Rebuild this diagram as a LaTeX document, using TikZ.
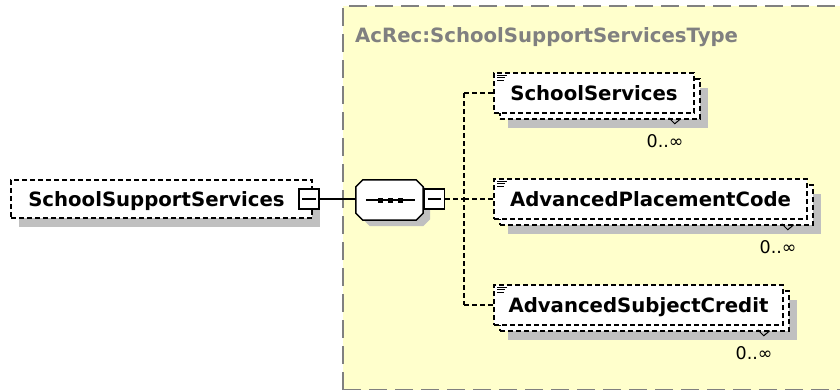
\documentclass[tikz,border=0pt]{standalone}
\usepackage{fontspec}
\setmainfont{DejaVu Sans}
\usetikzlibrary{shadows,calc}
\definecolor{bgyellow}{HTML}{FFFFCC}
\definecolor{shadowgray}{HTML}{C0C0C0}
\definecolor{titlegray}{HTML}{808080}
\newcommand\elfont{\fontsize{19.7pt}{22pt}\selectfont\bfseries}
\newcommand\multfont{\fontsize{17.5pt}{19pt}\selectfont}
\newcommand\octpath[2]{($(#1.north west)+(#2)+(7,0)$) -- ($(#1.north east)+(#2)+(-7,0)$) -- ($(#1.north east)+(#2)+(0,7)$) -- ($(#1.south east)+(#2)+(0,-7)$) -- ($(#1.south east)+(#2)+(-7,0)$) -- ($(#1.south west)+(#2)+(7,0)$) -- ($(#1.south west)+(#2)+(0,-7)$) -- ($(#1.north west)+(#2)+(0,7)$) -- cycle}
\begin{document}
\begin{tikzpicture}[x=1pt,y=-1pt,
  eldash/.style={dash pattern=on 5pt off 3pt, line width=1.5pt},
  dshadow/.style={drop shadow={shadow xshift=8pt, shadow yshift=-9pt, fill=shadowgray, opacity=1}},
  elbox/.style={draw=black, eldash, fill=white, rectangle, inner sep=0pt,
     minimum height=40pt, font=\elfont, text height=14pt, text depth=0pt},
  backbox/.style={elbox, dshadow},
  mainbox/.style={elbox, dshadow, minimum height=38pt},
  minusbox/.style={draw=black, line width=1.4pt, fill=white, rectangle, inner sep=0pt,
     minimum width=20pt, minimum height=20pt},
  seqarea/.style={rectangle, inner sep=0pt, minimum width=67pt, minimum height=40pt},
  conn/.style={draw=black, line width=1.3pt},
  dconn/.style={draw=black, line width=1.3pt, dash pattern=on 5pt off 3pt},
  mult/.style={font=\multfont, inner sep=0pt, anchor=east},
  titletext/.style={font=\elfont, text=titlegray, inner sep=0pt, anchor=base west},
  icon/.style={draw=black, line width=1pt},
  chev/.style={draw=black, line width=1pt}
]
\useasboundingbox (0,0) rectangle (840,389);
\fill[white] (0,0) rectangle (840,389);
% container
\fill[bgyellow] (343,6) rectangle (870,390);
\draw[titlegray, line width=2pt, dash pattern=on 18pt off 8pt] (343,390) -- (343,6) -- (870,6);
\draw[titlegray, line width=2pt, dash pattern=on 18pt off 8pt] (343,390) -- (870,390);
\node[titletext] (typename) at (355,42) {AcRec:SchoolSupportServicesType};

% main element
\node[mainbox, minimum width=301pt] (main) at (161.5,199) {SchoolSupportServices\hspace*{10pt}};
\node[minusbox] (mainminus) at (309,199) {};
\draw[conn] ([xshift=4pt]mainminus.west) -- ([xshift=-4pt]mainminus.east);

% sequence compositor
\node[seqarea] (seq) at (389.5,200) {};
\fill[shadowgray] \octpath{seq}{7,6};
\filldraw[fill=white, draw=black, line width=1.5pt] \octpath{seq}{0,0};
\draw[line width=1.4pt] ([xshift=10pt]seq.west) -- ([xshift=-8pt]seq.east);
\fill (378,197.5) rectangle (383,202.5);
\fill (388,197.5) rectangle (393,202.5);
\fill (397.5,197.5) rectangle (402.5,202.5);
\node[minusbox] (seqminus) at (434.5,199) {};
\draw[conn] ([xshift=4pt]seqminus.west) -- ([xshift=-4pt]seqminus.east);

\draw[conn] (mainminus.east) -- (seq.west |- mainminus.east);

% children
\node[backbox, minimum width=200pt] (ssback) at (600,99) {};
\node[elbox, minimum width=200pt] (ss) at (594,93) {SchoolServices};
\node[backbox, minimum width=313pt] (apcback) at (656.5,205) {};
\node[elbox, minimum width=313pt] (apc) at (650.5,199) {AdvancedPlacementCode};
\node[backbox, minimum width=289pt] (ascback) at (644.5,311) {};
\node[elbox, minimum width=289pt] (asc) at (638.5,305) {AdvancedSubjectCredit};

\foreach \n in {ss,apc,asc}{
  \draw[icon] ($(\n.north west)+(4,3)$) -- ++(10,0);
  \draw[icon] ($(\n.north west)+(4,5.5)$) -- ++(8,0);
  \draw[icon] ($(\n.north west)+(4,8)$) -- ++(7,0);
  \draw[chev] ($(\n back.south east)+(-32,-2)$) -- ++(6,6) -- ++(6,-5);
  \node[mult] (\n mult) at ($(\n back.south east)+(-17,21)$) {0..∞};
}

% connectors
\coordinate (forktop) at (464,93);
\coordinate (fork) at (464,199);
\coordinate (forkbot) at (464,305);
\draw[dconn] (seqminus.east) -- (fork);
\draw[dconn] (forktop) -- (forkbot);
\draw[dconn] (forktop) -- (ss.west);
\draw[dconn] (fork) -- (apc.west);
\draw[dconn] (forkbot) -- (asc.west);
\end{tikzpicture}
\end{document}
